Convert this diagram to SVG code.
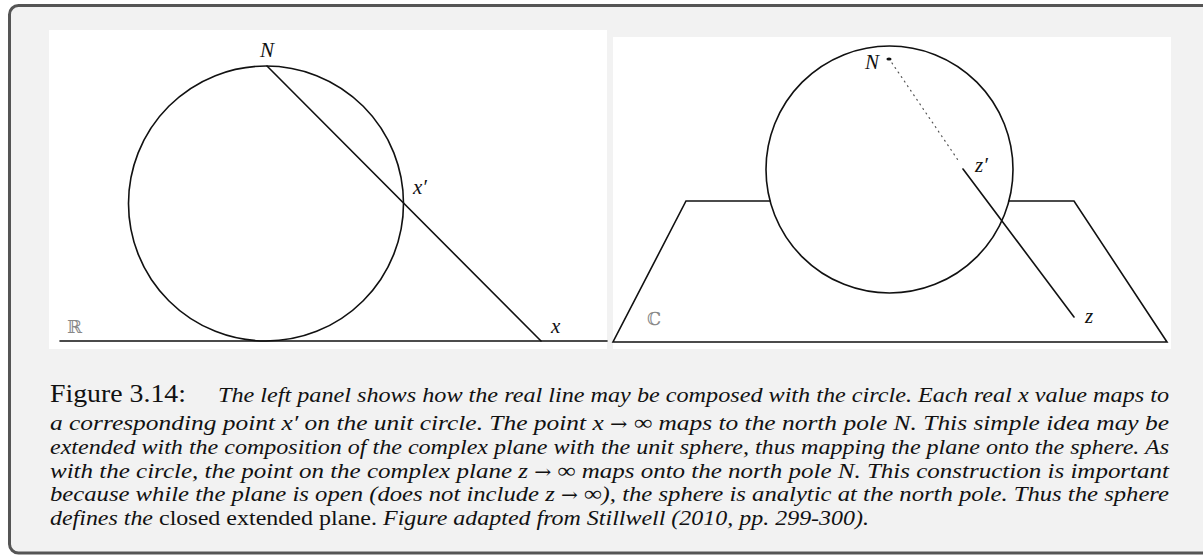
<svg xmlns="http://www.w3.org/2000/svg" width="1203" height="555" viewBox="0 0 1203 555">
<style>
.ln{fill:none;stroke:#111;stroke-width:1.6;stroke-linecap:round}
.lbl{font-family:"Liberation Serif","Times New Roman",serif;font-style:italic;font-size:21px;fill:#111}
.bb{font-family:"DejaVu Serif","Liberation Serif",serif;font-size:18px;fill:#888}
.cap{font-family:"Liberation Serif","Times New Roman",serif;font-size:22px;fill:#111}
.big{font-size:25px}
.it{font-style:italic}
.ar{font-family:"DejaVu Serif",serif;font-style:normal;font-size:18px}
</style>
<rect x="9.5" y="5.5" width="1210" height="547.5" rx="9" fill="#f2f2f2" stroke="#555" stroke-width="3"/>
<g id="left-panel">
<rect x="49" y="30" width="558" height="319" fill="#fff"/>
<circle class="ln" cx="266" cy="203.5" r="137.5"/>
<line class="ln" x1="267" y1="66" x2="541" y2="341"/>
<line class="ln" x1="60" y1="341" x2="607" y2="341" stroke-width="2"/>
<text class="lbl" x="267" y="57" text-anchor="middle">N</text>
<text class="lbl" x="413" y="194">x′</text>
<text class="lbl" x="551" y="333">x</text>
<text class="bb" x="67" y="333">ℝ</text>
</g>
<g id="right-panel">
<rect x="613" y="37" width="558" height="312" fill="#fff"/>
<polyline class="ln" points="770,201 686,201 613,342 1167,342 1074,201 1009,201"/>
<circle class="ln" cx="889.5" cy="169.5" r="123.5"/>
<line x1="892" y1="63" x2="960" y2="163" stroke="#555" stroke-width="1.2" stroke-dasharray="1 4.5" stroke-linecap="round"/>
<line class="ln" x1="963" y1="169" x2="1074" y2="317"/>
<ellipse cx="889" cy="59" rx="2.6" ry="1.6" fill="#111"/>
<text class="lbl" x="865" y="69">N</text>
<text class="lbl" x="975" y="172">z′</text>
<text class="lbl" x="1085" y="323">z</text>
<text class="bb" x="647" y="325">ℂ</text>
</g>
<g id="caption">
<text class="cap big" x="50" y="402" textLength="136" lengthAdjust="spacingAndGlyphs">Figure 3.14:</text>
<text class="cap it" x="218" y="402" textLength="951" lengthAdjust="spacingAndGlyphs">The left panel shows how the real line may be composed with the circle. Each real x value maps to</text>
<text class="cap it" x="50" y="430" textLength="1119" lengthAdjust="spacingAndGlyphs">a corresponding point x′ on the unit circle. The point x <tspan class="ar">→</tspan> ∞ maps to the north pole N. This simple idea may be</text>
<text class="cap it" x="50" y="454" textLength="1119" lengthAdjust="spacingAndGlyphs">extended with the composition of the complex plane with the unit sphere, thus mapping the plane onto the sphere. As</text>
<text class="cap it" x="50" y="478" textLength="1119" lengthAdjust="spacingAndGlyphs">with the circle, the point on the complex plane z <tspan class="ar">→</tspan> ∞ maps onto the north pole N. This construction is important</text>
<text class="cap it" x="50" y="501" textLength="1119" lengthAdjust="spacingAndGlyphs">because while the plane is open (does not include z <tspan class="ar">→</tspan> ∞), the sphere is analytic at the north pole. Thus the sphere</text>
<text class="cap it" x="50" y="525" textLength="103" lengthAdjust="spacingAndGlyphs">defines the</text>
<text class="cap" x="159" y="525" textLength="218" lengthAdjust="spacingAndGlyphs">closed extended plane.</text>
<text class="cap it" x="383" y="525" textLength="486" lengthAdjust="spacingAndGlyphs">Figure adapted from Stillwell (2010, pp. 299-300).</text>
</g>
</svg>
